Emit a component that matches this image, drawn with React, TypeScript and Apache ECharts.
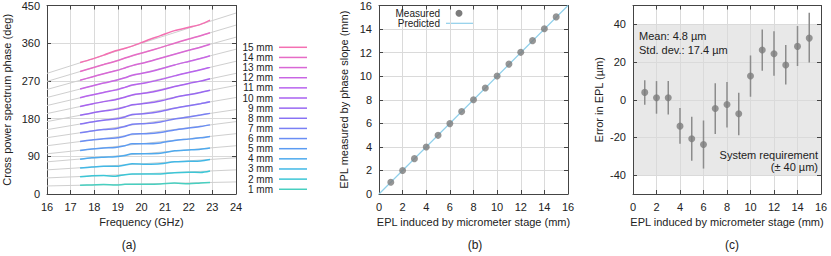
import React, { useEffect, useRef } from "react";
import * as echarts from "echarts";

// ---------- Panel (a): cross power spectrum phase ----------
const freqs = [17.4, 17.9, 18.4, 18.9, 19.3, 19.6, 20.2, 20.8, 21.4, 22.0, 22.5, 22.9];
const phase01 = [21, 21.5, 22.5, 21.5, 23, 23.5, 23.5, 24, 26, 24.5, 26.5, 27.5];
const phase02 = [41, 43.5, 44, 42.5, 46, 47.5, 47.5, 48, 51, 52, 51.5, 55];
const phase03 = [62, 64.5, 66, 66, 69, 72, 71, 72, 77, 78, 79, 82.5];
const phase04 = [83, 86.5, 88, 89, 92, 96, 96, 97, 103, 105, 107, 110];
const phase05 = [104, 107.5, 110, 111, 115, 120, 120, 122, 128, 131, 134, 137.5];
const phase06 = [125.5, 129, 132, 133.5, 138, 143, 144, 147, 153, 157.5, 161, 165];
const phase07 = [146, 150.5, 154, 156, 161, 166.5, 168, 172, 179, 184, 188.5, 192.5];
const phase08 = [167, 172, 176, 179, 184, 190, 192, 197, 204.5, 210.5, 215.5, 220];
const phase09 = [188, 193.5, 198, 202, 207.5, 213, 216.5, 222, 230.5, 237, 242.5, 247.5];
const phase10 = [209, 215, 220.5, 225, 231, 236.5, 241, 247.5, 256.5, 264, 269.5, 275];
const phase11 = [230, 236.5, 242.5, 248, 254.5, 260, 265.5, 273, 282, 290, 296.5, 302.5];
const phase12 = [250.5, 258, 265, 271, 277.5, 283.5, 290, 298.5, 308, 316.5, 323.5, 330];
const phase13 = [271.5, 279.5, 287, 294, 301, 306.5, 314.5, 324, 333.5, 343, 350.5, 357.5];
const phase14 = [292.5, 301, 309, 317, 324.5, 330, 339.5, 349.5, 360, 370, 378, 385];
const phase15 = [314, 322, 331.5, 342, 348, 353, 366, 378, 390, 398, 405, 415];
const phaseLines = [phase01, phase02, phase03, phase04, phase05, phase06, phase07, phase08,
  phase09, phase10, phase11, phase12, phase13, phase14, phase15];
const eplLabels = ["1 mm", "2 mm", "3 mm", "4 mm", "5 mm", "6 mm", "7 mm", "8 mm",
  "9 mm", "10 mm", "11 mm", "12 mm", "13 mm", "14 mm", "15 mm"];
const fitFreqs = [16, 24];
const fitAt16 = [19.2, 38.4, 57.6, 76.8, 96, 115.2, 134.4, 153.6, 172.8, 192, 211.2, 230.4, 249.6, 268.8, 288];
const fitAt24 = [28.8, 57.6, 86.4, 115.2, 144, 172.8, 201.6, 230.4, 259.2, 288, 316.8, 345.6, 374.4, 403.2, 432];
const lineColors = ["#48cfc0", "#3cc6d6", "#42b8e6", "#4eaaee", "#5c9cf2", "#6a8ef4", "#7a80f4", "#8872f4",
  "#9868f2", "#a862f0", "#b864ee", "#c866e4", "#d868d6", "#e66cc6", "#f470b2"];
const freqTicks = { min: 16, max: 24, interval: 1 };
const phaseTicks = { min: 0, max: 450, interval: 90 };

// ---------- Panel (b): EPL measured vs induced ----------
const stageEpl = [1, 2, 3, 4, 5, 6, 7, 8, 9, 10, 11, 12, 13, 14, 15];
const measuredEpl = [1.004, 2.001, 3.001, 3.986, 4.979, 5.976, 6.995, 7.997, 8.993, 10.013, 11.026, 12.024, 13.018, 14.028, 15.033];
const predictedX = [0, 16];
const predictedY = [0, 16];

// ---------- Panel (c): error in EPL ----------
const errMean = [3.9, 1.1, 1.1, -14, -20.7, -23.7, -4.6, -2.5, -7.4, 12.6, 26.4, 24.4, 18.4, 28.3, 32.7];
const errLow = [-2.7, -7.4, -7.8, -23.4, -32.4, -36.5, -18.2, -14.7, -18.8, 1.6, 15.4, 12.7, 8.1, 17.9, 19.8];
const errHigh = [10.3, 9.9, 9.9, -4.4, -9, -11, 8.7, 9.4, 3.7, 23.5, 37.3, 36.3, 29, 39.1, 46.2];
const requirementBand = [-40, 40];

const FONT = "'Liberation Sans', Arial, sans-serif";
const AXIS_COLOR = "#444";
const GRID_COLOR = "#dadada";
const TEXT_COLOR = "#222";

function mainAxis(pos: string, extra: any) {
  return {
    type: "value",
    position: pos,
    axisLine: { show: true, onZero: false, lineStyle: { color: AXIS_COLOR, width: 1 } },
    axisTick: { show: true, inside: true, length: 4, lineStyle: { color: AXIS_COLOR } },
    axisLabel: { color: TEXT_COLOR, fontFamily: FONT, fontSize: 11, margin: 7 },
    splitLine: { show: true, lineStyle: { color: GRID_COLOR, width: 1 } },
    nameTextStyle: { color: TEXT_COLOR, fontFamily: FONT, fontSize: 11 },
    nameLocation: "middle",
    ...extra,
  };
}
function mirrorAxis(pos: string, extra: any) {
  return {
    type: "value",
    position: pos,
    axisLine: { show: true, onZero: false, lineStyle: { color: AXIS_COLOR, width: 1 } },
    axisTick: { show: true, inside: true, length: 4, lineStyle: { color: AXIS_COLOR } },
    axisLabel: { show: false },
    splitLine: { show: false },
    ...extra,
  };
}

function txt(text: string, x: number, y: number, align: string, size = 11, lh = 12) {
  return {
    type: "text",
    x,
    y,
    z: 10,
    style: {
      text,
      fill: TEXT_COLOR,
      fontFamily: FONT,
      fontSize: size,
      lineHeight: lh,
      align,
      verticalAlign: "middle",
    },
  };
}

export default function App() {
  const ref = useRef<HTMLDivElement>(null);
  useEffect(() => {
    if (!ref.current) return;
    const chart = echarts.init(ref.current, null, { renderer: "svg" });

    const series: any[] = [];
    phaseLines.forEach((_, i) => {
      series.push({
        type: "line",
        xAxisIndex: 0,
        yAxisIndex: 0,
        data: fitFreqs.map((f, k) => [f, k === 0 ? fitAt16[i] : fitAt24[i]]),
        showSymbol: false,
        lineStyle: { color: "#cfcfcf", width: 1 },
        z: 2,
        silent: true,
      });
    });
    phaseLines.forEach((arr, i) => {
      series.push({
        type: "line",
        name: eplLabels[i],
        xAxisIndex: 0,
        yAxisIndex: 0,
        data: freqs.map((f, k) => [f, arr[k]]),
        showSymbol: false,
        smooth: 0.3,
        lineStyle: { color: lineColors[i], width: 1.5 },
        z: 3,
      });
    });
    series.push({
      type: "line",
      name: "Predicted",
      xAxisIndex: 2,
      yAxisIndex: 2,
      data: predictedX.map((x, k) => [x, predictedY[k]]),
      showSymbol: false,
      lineStyle: { color: "#8fcfea", width: 1.2 },
      z: 3,
    });
    series.push({
      type: "scatter",
      name: "Measured",
      xAxisIndex: 2,
      yAxisIndex: 2,
      data: stageEpl.map((x, k) => [x, measuredEpl[k]]),
      symbolSize: 7,
      itemStyle: { color: "#7c7c7c" },
      z: 4,
    });
    series.push({
      type: "line",
      xAxisIndex: 4,
      yAxisIndex: 4,
      data: [],
      z: 1,
      markArea: {
        silent: true,
        itemStyle: { color: "#e8e8e8" },
        data: [[{ yAxis: requirementBand[0] }, { yAxis: requirementBand[1] }]],
      },
    });
    series.push({
      type: "custom",
      xAxisIndex: 4,
      yAxisIndex: 4,
      z: 5,
      data: stageEpl.map((x, k) => [x, errLow[k], errHigh[k]]),
      encode: { x: 0, y: [1, 2] },
      renderItem: (params: any, api: any) => {
        const x = api.value(0);
        const lo = api.coord([x, api.value(1)]);
        const hi = api.coord([x, api.value(2)]);
        return {
          type: "line",
          shape: { x1: lo[0], y1: lo[1], x2: hi[0], y2: hi[1] },
          style: { stroke: "#8c8c8c", lineWidth: 1.5 },
        };
      },
    });
    series.push({
      type: "scatter",
      xAxisIndex: 4,
      yAxisIndex: 4,
      data: stageEpl.map((x, k) => [x, errMean[k]]),
      symbolSize: 7,
      itemStyle: { color: "#7c7c7c" },
      z: 6,
    });

    const graphics: any[] = [];
    for (let i = 14; i >= 0; i--) {
      const row = 14 - i;
      const y = 47.3 + row * 10.14;
      graphics.push(txt(eplLabels[i], 273, y, "right", 10, 10));
      graphics.push({
        type: "line",
        shape: { x1: 279, y1: y, x2: 307, y2: y },
        style: { stroke: lineColors[i], lineWidth: 1.5 },
      });
    }
    graphics.push(txt("Measured", 440, 13.3, "right", 10, 10));
    graphics.push({ type: "circle", shape: { cx: 459, cy: 13.3, r: 3.5 }, style: { fill: "#7c7c7c" } });
    graphics.push(txt("Predicted", 440, 23.3, "right", 10, 10));
    graphics.push({ type: "line", shape: { x1: 446, y1: 23.3, x2: 473, y2: 23.3 }, style: { stroke: "#8fcfea", lineWidth: 1.2 } });
    graphics.push(txt("Mean: 4.8 µm", 639, 35.7, "left", 11, 13));
    graphics.push(txt("Std. dev.: 17.4 µm", 639, 50, "left", 11, 13));
    graphics.push(txt("System requirement", 818, 155, "right", 11, 11));
    graphics.push(txt("(± 40 µm)", 818, 166.7, "right", 11, 11));
    graphics.push(txt("(a)", 129, 245, "center", 12, 14));
    graphics.push(txt("(b)", 475, 245, "center", 12, 14));
    graphics.push(txt("(c)", 732, 245, "center", 12, 14));

    chart.setOption({
      animation: false,
      grid: [
        { left: 47, top: 5, width: 189, height: 189 },
        { left: 379, top: 5, width: 189, height: 189 },
        { left: 633, top: 5.5, width: 188, height: 188.5 },
      ],
      xAxis: [
        mainAxis("bottom", { gridIndex: 0, ...freqTicks, name: "Frequency (GHz)", nameGap: 20 }),
        mirrorAxis("top", { gridIndex: 0, ...freqTicks }),
        mainAxis("bottom", { gridIndex: 1, min: 0, max: 16, interval: 2, name: "EPL induced by micrometer stage (mm)", nameGap: 20 }),
        mirrorAxis("top", { gridIndex: 1, min: 0, max: 16, interval: 2 }),
        mainAxis("bottom", { gridIndex: 2, min: 0, max: 16, interval: 2, name: "EPL induced by micrometer stage (mm)", nameGap: 20, z: 2 }),
        mirrorAxis("top", { gridIndex: 2, min: 0, max: 16, interval: 2, z: 2 }),
      ],
      yAxis: [
        mainAxis("left", { gridIndex: 0, ...phaseTicks, name: "Cross power spectrum phase (deg)", nameGap: 35 }),
        mirrorAxis("right", { gridIndex: 0, ...phaseTicks }),
        mainAxis("left", { gridIndex: 1, min: 0, max: 16, interval: 2, name: "EPL measured by phase slope (mm)", nameGap: 30 }),
        mirrorAxis("right", { gridIndex: 1, min: 0, max: 16, interval: 2 }),
        mainAxis("left", {
          gridIndex: 2, min: -50, max: 50, splitNumber: 5, name: "Error in EPL (µm)", nameGap: 29, z: 2,
          axisLabel: { color: TEXT_COLOR, fontFamily: FONT, fontSize: 11, margin: 7, showMinLabel: false, showMaxLabel: false },
        }),
        mirrorAxis("right", { gridIndex: 2, min: -50, max: 50, splitNumber: 5, z: 2 }),
      ],
      series,
      graphic: graphics,
    });
    return () => chart.dispose();
  }, []);
  return <div ref={ref} style={{ position: "fixed", left: 0, top: 0, width: 831, height: 256, background: "#fff" }} />;
}
